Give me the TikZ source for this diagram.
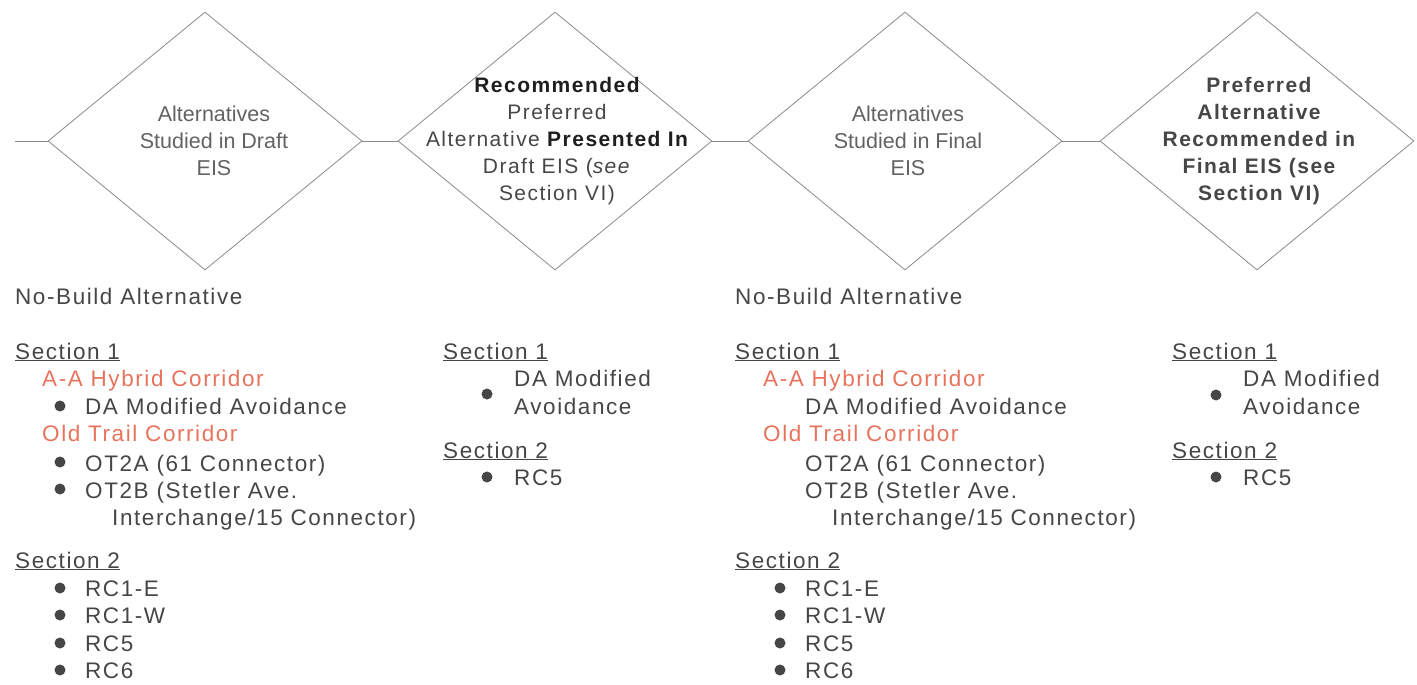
\documentclass[tikz,border=0pt]{standalone}
\usepackage{fontspec}
\setmainfont{Liberation Sans}
\newfontfamily\spacedfont[LetterSpace=7]{Liberation Sans}
\usetikzlibrary{shapes.geometric}
\definecolor{txt}{HTML}{464646}
\definecolor{corr}{HTML}{E8735C}
\definecolor{edgec}{HTML}{8A8A8A}
\definecolor{dark}{HTML}{1E1E1E}
\begin{document}
\begin{tikzpicture}[x=1pt,y=-1pt,
  dia/.style={draw=edgec, line width=0.8pt, shape=diamond, minimum width=314pt, minimum height=258pt, inner sep=0pt},
  dtext/.style={align=center, text=txt!85!white, inner sep=0pt, font=\fontsize{21.5}{27}\selectfont},
  dtextb/.style={align=center, text=txt, inner sep=0pt, font=\spacedfont\fontsize{21}{27}\selectfont},
  item/.style={anchor=base west, inner sep=0pt, text=txt, font=\spacedfont\fontsize{22.5}{27}\selectfont},
  corr/.style={item, text=corr},
  bul/.style={circle, fill=txt, minimum size=11pt, inner sep=0pt},
  link/.style={draw=edgec, line width=0.8pt}]
\useasboundingbox (0,0) rectangle (1417,685);
% diamonds
\node[dia] (d1) at (205,141) {};
\node[dia] (d2) at (555,141) {};
\node[dia] (d3) at (905,141) {};
\node[dia] (d4) at (1257,141) {};
\coordinate (start) at (15,141);
\draw[link] (start) -- (d1.west);
\draw[link] (d1.east) -- (d2.west);
\draw[link] (d2.east) -- (d3.west);
\draw[link] (d3.east) -- (d4.west);
% diamond texts
\node[dtext] (t1) at (214,141) {Alternatives\\Studied in Draft\\EIS};
\node[dtextb] (t2) at (557,141) {{\bfseries\color{dark}Recommended}\\Preferred\\Alternative {\bfseries\color{dark}Presented In}\\Draft EIS (\textit{see}\\Section VI)};
\node[dtext] (t3) at (908,141) {Alternatives\\Studied in Final\\EIS};
\node[dtextb, font=\spacedfont\bfseries\fontsize{21}{27}\selectfont, text=txt] (t4) at (1259,141) {Preferred\\Alternative\\Recommended in\\Final EIS (see\\Section VI)};
% column 1
\node[item] (a0) at (15,304) {No-Build Alternative};
\node[item] (a1) at (15,359) {\underline{Section 1}};
\node[corr] (a2) at (42,386) {A-A Hybrid Corridor};
\node[item] (a3) at (85,414) {DA Modified Avoidance};
\node[corr] (a4) at (42,441) {Old Trail Corridor};
\node[item] (a5) at (85,471) {OT2A (61 Connector)};
\node[item] (a6) at (85,498) {OT2B (Stetler Ave.};
\node[item] (a7) at (112,525) {Interchange/15 Connector)};
\node[item] (a8) at (15,568) {\underline{Section 2}};
\node[item] (a9) at (85,596) {RC1-E};
\node[item] (a10) at (85,623) {RC1-W};
\node[item] (a11) at (85,651) {RC5};
\node[item] (a12) at (85,678) {RC6};
\node[bul] (ab3) at (60,406) {};
\node[bul] (ab5) at (60,462) {};
\node[bul] (ab6) at (60,489) {};
\node[bul] (ab9) at (60,588) {};
\node[bul] (ab10) at (60,615) {};
\node[bul] (ab11) at (60,643) {};
\node[bul] (ab12) at (60,670) {};
% column 2
\node[item] (b1) at (443,359) {\underline{Section 1}};
\node[item] (b2) at (514,386) {DA Modified};
\node[item] (b3) at (514,414) {Avoidance};
\node[item] (b4) at (443,458) {\underline{Section 2}};
\node[item] (b5) at (514,485) {RC5};
\node[bul] (bb2) at (487,394) {};
\node[bul] (bb5) at (487,477) {};
% column 3
\node[item] (c0) at (735,304) {No-Build Alternative};
\node[item] (c1) at (735,359) {\underline{Section 1}};
\node[corr] (c2) at (763,386) {A-A Hybrid Corridor};
\node[item] (c3) at (805,414) {DA Modified Avoidance};
\node[corr] (c4) at (763,441) {Old Trail Corridor};
\node[item] (c5) at (805,471) {OT2A (61 Connector)};
\node[item] (c6) at (805,498) {OT2B (Stetler Ave.};
\node[item] (c7) at (832,525) {Interchange/15 Connector)};
\node[item] (c8) at (735,568) {\underline{Section 2}};
\node[item] (c9) at (805,596) {RC1-E};
\node[item] (c10) at (805,623) {RC1-W};
\node[item] (c11) at (805,651) {RC5};
\node[item] (c12) at (805,678) {RC6};
\node[bul] (cb9) at (780,588) {};
\node[bul] (cb10) at (780,615) {};
\node[bul] (cb11) at (780,643) {};
\node[bul] (cb12) at (780,670) {};
% column 4
\node[item] (e1) at (1172,359) {\underline{Section 1}};
\node[item] (e2) at (1243,386) {DA Modified};
\node[item] (e3) at (1243,414) {Avoidance};
\node[item] (e4) at (1172,458) {\underline{Section 2}};
\node[item] (e5) at (1243,485) {RC5};
\node[bul] (eb2) at (1216,395) {};
\node[bul] (eb5) at (1216,477) {};
\end{tikzpicture}
\end{document}
